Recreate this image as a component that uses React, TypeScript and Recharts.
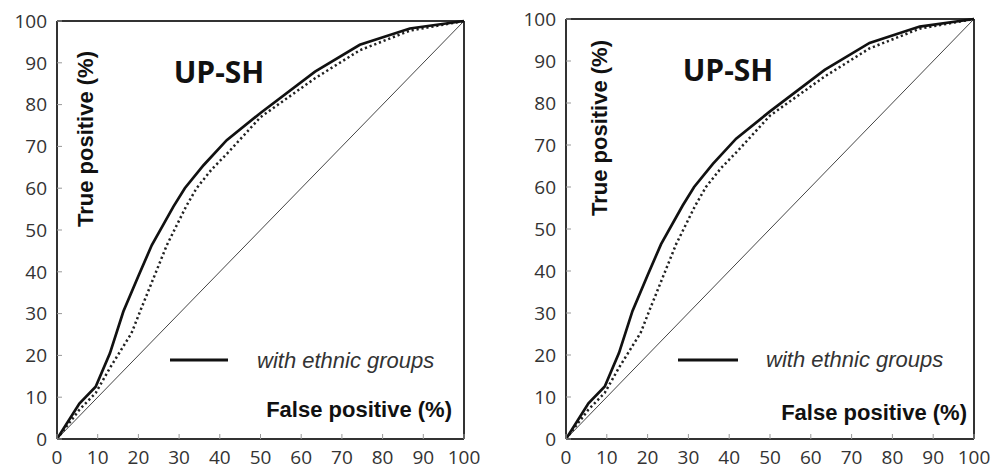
import { LineChart, Line, XAxis, YAxis, ReferenceLine } from 'recharts';

// ROC curve, with ethnic groups (solid)
const fprWith = [0, 5.5, 9.5, 13, 16.3, 20, 23.3, 28.6, 31.4, 36, 41.7, 50, 63.4, 74.4, 86.7, 100];
const tprWith = [0, 8.5, 12.5, 20.5, 30.5, 39, 46.4, 55.6, 60, 65.5, 71.5, 78, 87.9, 94.3, 98.2, 100];

// ROC curve, without ethnic groups (dotted)
const fprWithout = [0, 5.5, 9.5, 13, 18.3, 20.4, 27, 31.7, 34.3, 38, 42, 50, 63.4, 74.4, 86.7, 100];
const tprWithout = [0, 7, 11, 17, 25.3, 30.5, 46.4, 55.6, 60, 64.5, 68.5, 77, 86.3, 93, 97.7, 100];

const axisTicks = [0, 10, 20, 30, 40, 50, 60, 70, 80, 90, 100];

const withData = fprWith.map((x, i) => ({ x, y: tprWith[i] }));
const withoutData = fprWithout.map((x, i) => ({ x, y: tprWithout[i] }));

const TICK_FONT = '"Open Sans", sans-serif';
const LABEL_FONT = '"Liberation Sans", Arial, sans-serif';

const XTick = (props: any) => {
  const { x, y, payload } = props;
  return (
    <g>
      <line x1={x} x2={x} y1={y} y2={y - 5} stroke="#999" strokeWidth={1} />
      <text x={x} y={y + 25} textAnchor="middle" fontSize={19} fill="#333" fontFamily={TICK_FONT}>
        {payload.value}
      </text>
    </g>
  );
};

const YTick = (props: any) => {
  const { x, y, payload } = props;
  return (
    <g>
      <line x1={x} x2={x + 5} y1={y} y2={y} stroke="#999" strokeWidth={1} />
      <text x={x - 10} y={y + 6.7} textAnchor="end" fontSize={19} fill="#333" fontFamily={TICK_FONT}>
        {payload.value}
      </text>
    </g>
  );
};

interface PanelLayout {
  width: number;
  yAxisWidth: number;
  top: number;
  right: number;
  title: [number, number];
  yLabel: [number, number];
  xLabel: [number, number];
  legendLine: [number, number, number];
  legendText: [number, number];
}

const leftLayout: PanelLayout = {
  width: 500,
  yAxisWidth: 57,
  top: 21,
  right: 36,
  title: [219, 83],
  yLabel: [93, 139],
  xLabel: [452, 417],
  legendLine: [170, 228, 360],
  legendText: [257, 368],
};

const rightLayout: PanelLayout = {
  width: 506,
  yAxisWidth: 66,
  top: 19,
  right: 32,
  title: [228, 81],
  yLabel: [107, 128],
  xLabel: [467, 420],
  legendLine: [178, 238, 360],
  legendText: [266, 367],
};

function RocPanel({ layout }: { layout: PanelLayout }) {
  return (
    <LineChart
      width={layout.width}
      height={469}
      margin={{ top: layout.top, right: layout.right, left: 0, bottom: 0 }}
    >
      <XAxis
        type="number"
        dataKey="x"
        domain={[0, 100]}
        ticks={axisTicks}
        height={30}
        tickSize={0}
        tickMargin={0}
        tickLine={false}
        axisLine={{ stroke: '#333', strokeWidth: 2 }}
        tick={<XTick />}
        interval={0}
      />
      <YAxis
        type="number"
        dataKey="y"
        domain={[0, 100]}
        ticks={axisTicks}
        width={layout.yAxisWidth}
        tickSize={0}
        tickMargin={0}
        tickLine={false}
        axisLine={{ stroke: '#333', strokeWidth: 2 }}
        tick={<YTick />}
        interval={0}
      />
      <ReferenceLine y={100} stroke="#333" strokeWidth={2} />
      <ReferenceLine x={100} stroke="#333" strokeWidth={2} />
      <ReferenceLine
        segment={[
          { x: 0, y: 0 },
          { x: 100, y: 100 },
        ]}
        stroke="#444"
        strokeWidth={1}
      />
      <Line
        data={withoutData}
        dataKey="y"
        type="linear"
        dot={false}
        stroke="#222"
        strokeWidth={2.5}
        strokeDasharray="2.2 2.8"
        isAnimationActive={false}
      />
      <Line
        data={withData}
        dataKey="y"
        type="linear"
        dot={false}
        stroke="#111"
        strokeWidth={2.7}
        isAnimationActive={false}
      />
      <text
        x={layout.title[0]}
        y={layout.title[1]}
        textAnchor="middle"
        fontSize={30}
        fontWeight="bold"
        fill="#111"
        fontFamily={TICK_FONT}
      >
        UP-SH
      </text>
      <text
        x={layout.yLabel[0]}
        y={layout.yLabel[1]}
        textAnchor="middle"
        fontSize={22}
        fontWeight="bold"
        fill="#111"
        fontFamily={LABEL_FONT}
        transform={`rotate(-90 ${layout.yLabel[0]} ${layout.yLabel[1]})`}
      >
        True positive (%)
      </text>
      <text
        x={layout.xLabel[0]}
        y={layout.xLabel[1]}
        textAnchor="end"
        fontSize={22}
        fontWeight="bold"
        fill="#111"
        fontFamily={LABEL_FONT}
      >
        False positive (%)
      </text>
      <line
        x1={layout.legendLine[0]}
        x2={layout.legendLine[1]}
        y1={layout.legendLine[2]}
        y2={layout.legendLine[2]}
        stroke="#111"
        strokeWidth={3}
      />
      <text
        x={layout.legendText[0]}
        y={layout.legendText[1]}
        fontSize={22}
        fontStyle="italic"
        fill="#333"
        fontFamily={LABEL_FONT}
      >
        with ethnic groups
      </text>
    </LineChart>
  );
}

export default function App() {
  return (
    <div
      style={{
        position: 'absolute',
        left: 0,
        top: 0,
        width: 1006,
        height: 469,
        background: '#fff',
        overflow: 'hidden',
      }}
    >
      <div style={{ position: 'absolute', left: 0, top: 0 }}>
        <RocPanel layout={leftLayout} />
      </div>
      <div style={{ position: 'absolute', left: 500, top: 0 }}>
        <RocPanel layout={rightLayout} />
      </div>
    </div>
  );
}
